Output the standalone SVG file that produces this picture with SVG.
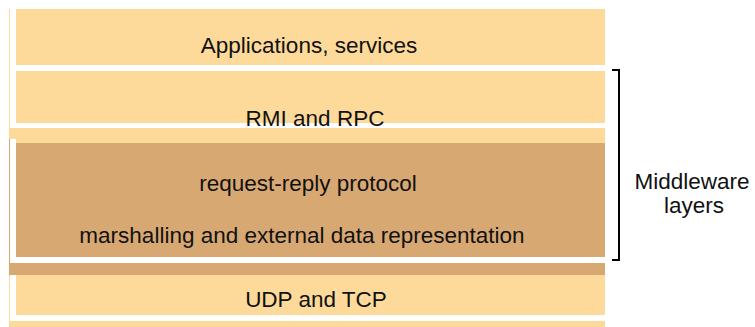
<svg xmlns="http://www.w3.org/2000/svg" width="755" height="327" viewBox="0 0 755 327">
  <style>
    .light { fill: #FDDA9A; }
    .dark { fill: #D8A873; }
    .lbl { font-family: "Liberation Sans", Arial, Helvetica, sans-serif; font-size: 22.5px; fill: #111111; text-anchor: middle; }
    .brk { fill: none; stroke: #000000; stroke-width: 2; }
  </style>
  <rect x="0" y="0" width="755" height="327" fill="#FFFFFF"/>

  <!-- left edge strips (shadow) -->
  <rect class="light" x="9" y="9" width="1" height="130"/>
  <rect class="dark" x="9" y="139" width="1" height="136"/>
  <rect class="light" x="9" y="275" width="1" height="52"/>

  <g id="layer-applications">
    <rect class="light" x="16" y="9" width="589" height="56"/>
    <text class="lbl" x="309" y="53">Applications, services</text>
  </g>

  <g id="layer-rmi">
    <rect class="light" x="16" y="71" width="589" height="52"/>
    <rect class="light" x="9" y="128" width="596" height="11"/>
    <rect class="light" x="16" y="139" width="589" height="4"/>
    <text class="lbl" x="315" y="126">RMI and RPC</text>
  </g>

  <g id="layer-request-reply">
    <rect class="dark" x="16" y="143" width="589" height="114"/>
    <rect class="dark" x="9" y="263" width="596" height="12"/>
    <text class="lbl" x="308" y="191">request-reply protocol</text>
    <text class="lbl" x="302" y="243">marshalling and external data representation</text>
  </g>

  <g id="layer-udp">
    <rect class="light" x="16" y="275" width="589" height="40"/>
    <rect class="light" x="9" y="321" width="596" height="6"/>
    <text class="lbl" x="316" y="307">UDP and TCP</text>
  </g>

  <g id="connectors">
    <path class="brk" d="M612,70 H619 V260 H612"/>
  </g>

  <g id="middleware-label">
    <text class="lbl" x="692" y="189">Middleware</text>
    <text class="lbl" x="694" y="213">layers</text>
  </g>
</svg>
